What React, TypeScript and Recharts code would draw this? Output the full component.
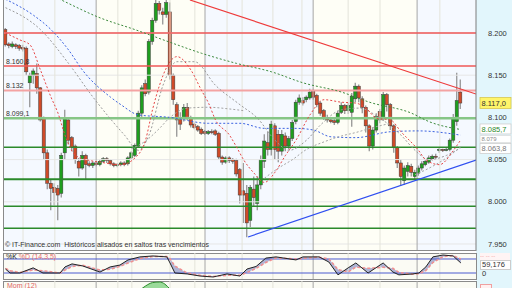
import React from 'react';
import {
  ComposedChart,
  Bar,
  Line,
  Area,
  XAxis,
  YAxis,
  ReferenceLine,
  ReferenceArea,
} from 'recharts';

// daily candles, oldest first
const OPEN = [
  8.204, 8.187, 8.184, 8.186, 8.185, 8.183, 8.182, 8.141, 8.15, 8.152,
  8.135, 8.099, 8.058, 8.022, 8.017, 8.016, 8.01, 8.058, 8.097, 8.076,
  8.066, 8.048, 8.04, 8.055, 8.045, 8.043, 8.046, 8.044, 8.048, 8.051,
  8.049, 8.045, 8.043, 8.044, 8.046, 8.045, 8.052, 8.055, 8.066, 8.105,
  8.14, 8.13, 8.19, 8.215, 8.235, 8.225, 8.222, 8.225, 8.15, 8.115,
  8.1, 8.1, 8.112, 8.1, 8.092, 8.089, 8.086, 8.083, 8.081, 8.083,
  8.084, 8.081, 8.053, 8.047, 8.052, 8.05, 8.049, 8.038, 8.013, 8.01,
  7.978, 8.015, 7.998, 8.02, 8.048, 8.07, 8.062, 8.09, 8.08, 8.06,
  8.078, 8.066, 8.075, 8.095, 8.118, 8.12, 8.121, 8.123, 8.131, 8.126,
  8.117, 8.108, 8.1, 8.097, 8.096, 8.094, 8.106, 8.114, 8.108, 8.106,
  8.122, 8.137, 8.122, 8.112, 8.09, 8.066, 8.085, 8.107, 8.099, 8.127,
  8.115, 8.09, 8.064, 8.046, 8.025, 8.036, 8.042, 8.03, 8.034, 8.04,
  8.044, 8.047, 8.051, 8.054, 8.061, 8.062, 8.061, 8.062, 8.073, 8.095,
  8.13,
];
const HIGH = [
  8.206, 8.189, 8.19, 8.188, 8.187, 8.186, 8.184, 8.153, 8.158, 8.164,
  8.136, 8.101, 8.062, 8.026, 8.022, 8.02, 8.058, 8.109, 8.1, 8.078,
  8.068, 8.052, 8.06, 8.057, 8.048, 8.048, 8.048, 8.05, 8.053, 8.053,
  8.05, 8.047, 8.046, 8.048, 8.048, 8.054, 8.06, 8.069, 8.108, 8.138,
  8.145, 8.193, 8.218, 8.239, 8.238, 8.23, 8.239, 8.236, 8.152, 8.118,
  8.106, 8.116, 8.117, 8.102, 8.094, 8.091, 8.088, 8.085, 8.085, 8.086,
  8.086, 8.083, 8.055, 8.054, 8.054, 8.052, 8.051, 8.04, 8.046, 8.02,
  8.02, 8.03, 8.03, 8.055, 8.08, 8.083, 8.096, 8.093, 8.085, 8.085,
  8.082, 8.078, 8.097, 8.121, 8.127, 8.124, 8.126, 8.134, 8.134, 8.128,
  8.119, 8.11, 8.103, 8.099, 8.098, 8.108, 8.118, 8.116, 8.117, 8.129,
  8.141, 8.139, 8.125, 8.114, 8.092, 8.088, 8.105, 8.11, 8.13, 8.129,
  8.117, 8.092, 8.066, 8.05, 8.043, 8.047, 8.045, 8.038, 8.043, 8.048,
  8.05, 8.055, 8.056, 8.057, 8.064, 8.063, 8.064, 8.075, 8.104, 8.153,
  8.145,
];
const LOW = [
  8.184, 8.182, 8.182, 8.181, 8.179, 8.178, 8.15, 8.112, 8.14, 8.128,
  8.095, 8.05, 8.015, 7.99, 7.996, 7.978, 8.005, 8.05, 8.068, 8.06,
  8.045, 8.03, 8.038, 8.026, 8.041, 8.04, 8.042, 8.042, 8.046, 8.046,
  8.043, 8.041, 8.041, 8.042, 8.042, 8.043, 8.05, 8.053, 8.064, 8.1,
  8.125, 8.127, 8.186, 8.212, 8.222, 8.21, 8.218, 8.145, 8.115, 8.077,
  8.085, 8.095, 8.097, 8.088, 8.086, 8.083, 8.079, 8.079, 8.079, 8.08,
  8.078, 8.05, 8.044, 8.045, 8.046, 8.045, 8.03, 7.998, 7.975, 7.958,
  7.97, 7.995, 7.99, 8.015, 8.04, 8.055, 8.055, 8.05, 8.047, 8.055,
  8.06, 8.062, 8.072, 8.092, 8.115, 8.114, 8.118, 8.121, 8.121, 8.112,
  8.102, 8.097, 8.094, 8.093, 8.091, 8.092, 8.104, 8.104, 8.104, 8.089,
  8.118, 8.118, 8.105, 8.082, 8.06, 8.062, 8.082, 8.093, 8.096, 8.107,
  8.085, 8.058, 8.04, 8.019, 8.02, 8.03, 8.03, 8.027, 8.031, 8.037,
  8.042, 8.045, 8.049, 8.051, 8.058, 8.059, 8.06, 8.06, 8.07, 8.09,
  8.11,
];
const CLOSE = [
  8.186, 8.185, 8.187, 8.184, 8.182, 8.181, 8.154, 8.15, 8.155, 8.135,
  8.097, 8.058, 8.022, 8.016, 8.011, 8.008, 8.055, 8.099, 8.073, 8.064,
  8.05, 8.04, 8.055, 8.044, 8.043, 8.046, 8.044, 8.048, 8.051, 8.049,
  8.045, 8.043, 8.044, 8.046, 8.044, 8.052, 8.058, 8.067, 8.105, 8.135,
  8.128, 8.19, 8.215, 8.235, 8.227, 8.222, 8.236, 8.15, 8.121, 8.097,
  8.092, 8.112, 8.1, 8.091, 8.088, 8.085, 8.081, 8.081, 8.083, 8.082,
  8.08, 8.053, 8.047, 8.052, 8.049, 8.048, 8.033, 8.008, 8.008, 7.975,
  8.017, 8.005, 8.02, 8.05, 8.072, 8.062, 8.092, 8.062, 8.06, 8.08,
  8.066, 8.075, 8.094, 8.118, 8.123, 8.117, 8.124, 8.13, 8.124, 8.115,
  8.105, 8.1, 8.097, 8.095, 8.094, 8.105, 8.114, 8.108, 8.114, 8.125,
  8.137, 8.123, 8.112, 8.09, 8.066, 8.085, 8.101, 8.097, 8.127, 8.115,
  8.09, 8.064, 8.046, 8.03, 8.04, 8.043, 8.035, 8.035, 8.04, 8.045,
  8.048, 8.052, 8.054, 8.053, 8.062, 8.061, 8.062, 8.073, 8.1, 8.12,
  8.117,
];

// dotted averages: [candle index, price]
const MA_FAST: [number, number][] = [
  [0, 8.2], [4, 8.192], [7, 8.186], [10, 8.156], [13, 8.124], [15, 8.105],
  [17, 8.079], [20, 8.055], [23, 8.05], [27, 8.047], [33, 8.044], [37, 8.052],
  [40, 8.073], [42, 8.109], [44, 8.138], [46, 8.159], [49, 8.172], [53, 8.156],
  [56, 8.132], [58, 8.117], [60, 8.097], [64, 8.079], [66, 8.065], [68, 8.05],
  [71, 8.034], [74, 8.023], [77, 8.035], [80, 8.055], [83, 8.073], [87, 8.103],
  [91, 8.121], [96, 8.118], [100, 8.117], [103, 8.111], [106, 8.099], [110, 8.097],
  [113, 8.083], [118, 8.061], [120, 8.05], [124, 8.044], [128, 8.061], [130, 8.073],
];
const MA_MID: [number, number][] = [
  [0, 8.23], [10, 8.204], [18, 8.164], [25, 8.124], [34, 8.079], [38, 8.061],
  [41, 8.079], [45, 8.138], [49, 8.166], [54, 8.166], [60, 8.138], [67, 8.115],
  [72, 8.099], [77, 8.073], [81, 8.061], [86, 8.073], [90, 8.091], [96, 8.109],
  [101, 8.111], [107, 8.099], [113, 8.079], [117, 8.061], [121, 8.05], [126, 8.055],
  [130, 8.0638],
];
const MA_SLOW: [number, number][] = [
  [0, 8.24], [8, 8.221], [13, 8.204], [18, 8.18], [22, 8.156], [30, 8.124],
  [33, 8.115], [38, 8.103], [47, 8.1], [58, 8.093], [67, 8.093], [74, 8.087],
  [83, 8.087], [88, 8.085], [93, 8.077], [100, 8.076], [110, 8.083], [118, 8.084],
  [130, 8.079],
];
const MA_LONG: [number, number][] = [
  [8, 8.255], [16, 8.239], [27, 8.218], [37, 8.204], [47, 8.189], [56, 8.176],
  [66, 8.164], [76, 8.154], [85, 8.141], [96, 8.13], [104, 8.118], [116, 8.105],
  [121, 8.095], [130, 8.0857],
];
const ARC_A: [number, number][] = [
  [36, 8.063], [40, 8.072], [44, 8.087], [47, 8.1], [52, 8.111], [58, 8.112], [64, 8.11], [68, 8.108],
];
const ARC_B: [number, number][] = [
  [74, 8.028], [78, 8.04], [82, 8.05], [86, 8.062], [91, 8.071], [96, 8.078], [100, 8.082],
  [105, 8.088], [110, 8.093],
];
const ARC_C: [number, number][] = [[117, 8.032], [122, 8.042], [126, 8.052], [130, 8.065]];

const PRICE_TICKS = [7.95, 8.0, 8.05, 8.1, 8.15, 8.2];
const RESISTANCE = [8.2, 8.1608, 8.132];
const RESISTANCE_TEXT = ['', '8.160,8', '8.132'];
const SUPPORT = [8.0991, 8.0646, 8.0267, 7.9947, 7.9686];
const SUPPORT_TEXT = ['8.099,1', '', '', '', ''];
const TREND_DOWN = [{ x: 52.7, y: 8.2391 }, { x: 134.43, y: 8.1277 }];
const TREND_UP = [{ x: 69.3, y: 7.9583 }, { x: 134.43, y: 8.0495 }];
const MONTH_MARKS = [25.9, 57.0, 87.9, 117.6];
const WEEK_MARKS = [5.0, 14.1, 32.1, 36.1, 47.0, 54.1, 63.3, 67.6, 76.4, 84.7, 97.9, 107.0, 124.1];

// stochastic %K %D (14,3,5)
const STOCH_IDX = [
  0, 1.3, 4.1, 7.9, 10.7, 15.6, 17, 19, 22.1, 27, 29.9, 32.7, 35, 38.4, 42.1,
  46.1, 47, 48.4, 51.9, 55.6, 59.3, 63.3, 67, 69, 71.6, 74.4, 77.3, 83, 85, 89.6,
  92.4, 95, 97.9, 100.1, 103.6, 107.9, 110.7, 112.4, 116.4, 118.1, 120.1, 122.1, 125, 127.9, 130.1,
];
const STOCH_K = [
  37, 20, 20, 42, 20, 20, 46, 59, 50, 24, 46, 54, 76, 89, 93,
  89, 63, 20, 16, 7, 3, 16, 7, 37, 48, 84, 89, 76, 89, 89,
  67, 12, 42, 63, 20, 63, 24, 12, 16, 20, 46, 89, 97, 93, 63,
];
const STOCH_D = [
  40, 30, 22, 33, 30, 20, 32, 48, 53, 33, 36, 48, 63, 82, 91,
  91, 82, 50, 20, 10, 5, 10, 10, 22, 40, 65, 85, 80, 83, 88,
  80, 35, 25, 45, 40, 45, 40, 22, 15, 17, 30, 65, 90, 95, 80,
];

// momentum (12)
const MOM_IDX = [0, 10, 20, 30, 34, 36, 38, 40, 42, 44, 45.5, 47, 50, 55, 65, 80, 95, 110, 120, 130];
const MOM_VAL = [
  -0.05, -0.06, -0.03, 0.0, 0.01, 0.03, 0.05, 0.075, 0.092, 0.095,
  0.085, 0.06, 0.02, -0.04, -0.05, 0.02, 0.03, -0.03, 0.0, 0.04,
];

const X_DOMAIN: [number, number] = [-0.43, 134.43];
const PRICE_DOMAIN: [number, number] = [7.9417, 8.2391];
const FONT = '"Liberation Sans", Arial, sans-serif';

const rows: any[] = CLOSE.map((c, i) => ({ i, o: OPEN[i], h: HIGH[i], l: LOW[i], c }));
const put = (key: string, pts: [number, number][]) =>
  pts.forEach(([i, v]) => {
    rows[i][key] = v;
  });
put('fast', MA_FAST);
put('mid', MA_MID);
put('slow', MA_SLOW);
put('long', MA_LONG);
put('arcA', ARC_A);
put('arcB', ARC_B);
put('arcC', ARC_C);

const stochRows = STOCH_IDX.map((i, n) => ({ i, k: STOCH_K[n], d: STOCH_D[n] }));
const momRows = MOM_IDX.map((i, n) => ({ i, m: MOM_VAL[n] }));

const Candle = (props: any) => {
  const { x, y, width, height, payload } = props;
  if (!payload || height == null) return null;
  const { o, h, l, c } = payload;
  const cx = x + width / 2;
  const span = h - l || 1e-6;
  const at = (v: number) => y + ((h - v) / span) * height;
  const top = at(Math.max(o, c));
  const bot = at(Math.min(o, c));
  const up = c >= o;
  return (
    <g>
      <line x1={cx} x2={cx} y1={y} y2={y + height} stroke="#8d8d8d" strokeWidth={1.2} />
      <rect
        x={cx - 1.6}
        y={top}
        width={3.2}
        height={Math.max(bot - top, 1)}
        fill={up ? '#1e9e1e' : '#d04a28'}
        stroke="#3b3b3b"
        strokeWidth={0.5}
      />
    </g>
  );
};

const PriceTag = ({ viewBox, text, color, bg, border, dy = 0, h = 11, size = 7.5 }: any) => {
  if (!viewBox) return null;
  const x = viewBox.x + viewBox.width + 4;
  const y = viewBox.y + dy;
  return (
    <g>
      <rect x={x} y={y - h / 2} width={31} height={h} fill={bg} stroke={border} strokeWidth={0.8} />
      <text x={x + 1.5} y={y + size * 0.38} fontSize={size} fill={color} fontFamily={FONT}>
        {text}
      </text>
    </g>
  );
};

const timeGrid = () => (
  <>
    {WEEK_MARKS.map((m) => (
      <ReferenceLine key={'w' + m} x={m} stroke="#e4e4da" strokeWidth={1} />
    ))}
    {MONTH_MARKS.map((m) => (
      <ReferenceLine key={'m' + m} x={m} stroke="#a6a6a6" strokeWidth={1} />
    ))}
  </>
);

const dotted = (key: string, color: string) => (
  <Line
    dataKey={key}
    type="monotone"
    stroke={color}
    strokeWidth={1}
    strokeDasharray="2 2"
    dot={false}
    connectNulls
    isAnimationActive={false}
  />
);

const App: React.FC = () => {
  const bands = [X_DOMAIN[0], ...MONTH_MARKS, X_DOMAIN[1]];
  return (
    <div
      style={{
        position: 'fixed',
        left: 0,
        top: 0,
        width: 512,
        height: 288,
        overflow: 'hidden',
        background: '#ffffff',
        fontFamily: FONT,
      }}
    >
      <div style={{ position: 'absolute', left: 476, top: 0, width: 36, height: 288, background: '#e2f6fc' }} />

      {/* price panel */}
      <div style={{ position: 'absolute', left: 0, top: 0 }}>
        <ComposedChart width={512} height={251} data={rows} margin={{ top: 0, right: 0, bottom: 0, left: 4 }}>
          <XAxis dataKey="i" type="number" domain={X_DOMAIN} hide allowDataOverflow />
          <YAxis
            orientation="right"
            type="number"
            domain={PRICE_DOMAIN}
            allowDataOverflow
            ticks={PRICE_TICKS}
            tickFormatter={(v: number) => v.toFixed(3)}
            width={36}
            tick={{ fontSize: 7.5, fill: '#333', fontFamily: FONT }}
            tickLine={false}
            tickMargin={6}
            axisLine={{ stroke: '#7c7c7c' }}
          />
          {bands.slice(0, -1).map((b, n) => (
            <ReferenceArea
              key={'b' + n}
              x1={b}
              x2={bands[n + 1]}
              fill={n % 2 === 0 ? '#f5f9ff' : '#fefef6'}
              fillOpacity={1}
              stroke="none"
            />
          ))}
          {PRICE_TICKS.map((t) => (
            <ReferenceLine key={'g' + t} y={t} stroke="#e6e6e6" />
          ))}
          {timeGrid()}
          {RESISTANCE.map((v, n) => (
            <ReferenceLine
              key={'r' + v}
              y={v}
              stroke={n === 2 ? '#f4a3a3' : '#ef5757'}
              strokeWidth={n === 2 ? 2 : 1.5}
              label={
                RESISTANCE_TEXT[n]
                  ? { value: RESISTANCE_TEXT[n], position: 'insideBottomLeft', offset: 2, fontSize: 7, fill: '#333' }
                  : undefined
              }
            />
          ))}
          {SUPPORT.map((v, n) => (
            <ReferenceLine
              key={'s' + v}
              y={v}
              stroke={n === 0 ? '#86c686' : '#2b8a2b'}
              strokeWidth={n === 0 ? 2.5 : n === 2 ? 2 : 1.5}
              label={
                SUPPORT_TEXT[n]
                  ? { value: SUPPORT_TEXT[n], position: 'insideBottomLeft', offset: 2, fontSize: 7, fill: '#333' }
                  : undefined
              }
            />
          ))}
          <ReferenceLine segment={TREND_DOWN} stroke="#ee3a3a" strokeWidth={1.2} ifOverflow="hidden" />
          <ReferenceLine segment={TREND_UP} stroke="#2f4ff0" strokeWidth={1.2} ifOverflow="hidden" />
          {dotted('long', '#3d8a3d')}
          {dotted('slow', '#3b62e0')}
          {dotted('mid', '#9a9a9a')}
          {dotted('arcA', '#a4a4a4')}
          {dotted('arcB', '#a4a4a4')}
          {dotted('arcC', '#a4a4a4')}
          {dotted('fast', '#e74848')}
          <Bar
            dataKey={(d: any) => [d.l, d.h]}
            barSize={3}
            shape={(p: any) => <Candle {...p} />}
            isAnimationActive={false}
          />
          <ReferenceLine
            y={8.079}
            stroke="none"
            label={<PriceTag text="8.079" color="#8a8a8a" bg="#ffffff" border="#dddddd" dy={4} h={7} size={6} />}
          />
          <ReferenceLine
            y={8.0857}
            stroke="none"
            label={<PriceTag text="8.085,7" color="#2c8a2c" bg="#ffffff" border="#cfcfcf" dy={-0.5} h={10} />}
          />
          <ReferenceLine
            y={8.0638}
            stroke="none"
            label={<PriceTag text="8.063,8" color="#777777" bg="#ffffff" border="#cfcfcf" dy={0.5} h={10} />}
          />
          <ReferenceLine
            y={8.117}
            stroke="none"
            label={<PriceTag text="8.117,0" color="#333333" bg="#fff56a" border="#d8c850" />}
          />
        </ComposedChart>
      </div>
      <div
        style={{
          position: 'absolute',
          left: 3,
          top: -1,
          width: 473,
          height: 252,
          borderLeft: '1px solid #8a8a8a',
          borderBottom: '1px solid #8a8a8a',
          boxSizing: 'border-box',
          pointerEvents: 'none',
        }}
      />
      <div style={{ position: 'absolute', left: 5, top: 241, fontSize: 7, color: '#333', whiteSpace: 'pre' }}>
        {'© IT-Finance.com  Históricos alisados en saltos tras vencimientos'}
      </div>

      {/* stochastic panel */}
      <div
        style={{
          position: 'absolute',
          left: 3,
          top: 253,
          width: 474,
          height: 27,
          border: '1px solid #8a8a8a',
          boxSizing: 'border-box',
          background: '#fbfbf4',
        }}
      />
      <div style={{ position: 'absolute', left: 0, top: 253 }}>
        <ComposedChart width={512} height={26} data={stochRows} margin={{ top: 0, right: 0, bottom: 0, left: 4 }}>
          <XAxis dataKey="i" type="number" domain={X_DOMAIN} hide allowDataOverflow />
          <YAxis orientation="right" type="number" domain={[-5.7, 105.7]} width={36} tick={false} axisLine={false} allowDataOverflow />
          {timeGrid()}
          <ReferenceLine y={80} stroke="#4a5ad0" />
          <ReferenceLine y={20} stroke="#4a5ad0" />
          <Area
            dataKey={(r: any) => [r.d, r.k]}
            type="linear"
            fill="#7d87c2"
            fillOpacity={0.6}
            stroke="none"
            isAnimationActive={false}
          />
          <Line dataKey="d" type="linear" stroke="#f09090" strokeWidth={1.5} strokeDasharray="3 2" dot={false} isAnimationActive={false} />
          <Line dataKey="k" type="linear" stroke="#222222" strokeWidth={1} dot={false} isAnimationActive={false} />
        </ComposedChart>
      </div>
      <div style={{ position: 'absolute', left: 6, top: 253, fontSize: 7, lineHeight: '8px', whiteSpace: 'pre' }}>
        <span style={{ color: '#222' }}>%K </span>
        <span style={{ color: '#e87070' }}>%D (14,3,5)</span>
      </div>
      <div
        style={{
          position: 'absolute',
          left: 480,
          top: 253,
          width: 30,
          height: 7,
          fontSize: 6,
          lineHeight: '7px',
          color: '#f0a0a0',
          background: '#fff4f4',
        }}
      >
        -- -- --
      </div>
      <div
        style={{
          position: 'absolute',
          left: 480,
          top: 260,
          width: 31,
          height: 10,
          border: '1px solid #cccccc',
          boxSizing: 'border-box',
          background: '#ffffff',
          fontSize: 7.5,
          lineHeight: '8px',
          color: '#333',
          paddingLeft: 1,
        }}
      >
        59,176
      </div>
      <div style={{ position: 'absolute', left: 482, top: 270, fontSize: 7.5, lineHeight: '8px', color: '#333' }}>0</div>

      {/* momentum panel */}
      <div
        style={{
          position: 'absolute',
          left: 3,
          top: 281,
          width: 474,
          height: 30,
          border: '1px solid #8a8a8a',
          boxSizing: 'border-box',
          background: '#fbfbf4',
        }}
      />
      <div style={{ position: 'absolute', left: 0, top: 281 }}>
        <ComposedChart width={512} height={40} data={momRows} margin={{ top: 0, right: 0, bottom: 0, left: 4 }}>
          <XAxis dataKey="i" type="number" domain={X_DOMAIN} hide allowDataOverflow />
          <YAxis orientation="right" type="number" domain={[-0.1, 0.1]} width={36} tick={false} axisLine={false} allowDataOverflow />
          {timeGrid()}
          <Area
            dataKey="m"
            type="monotone"
            fill="#9adb9a"
            fillOpacity={1}
            stroke="#2a8a2a"
            strokeWidth={1}
            baseValue={0}
            isAnimationActive={false}
          />
        </ComposedChart>
      </div>
      <div style={{ position: 'absolute', left: 7, top: 282, fontSize: 7, lineHeight: '8px', color: '#e06464' }}>Mom (12)</div>
      <div
        style={{
          position: 'absolute',
          left: 480,
          top: 284,
          width: 12,
          height: 8,
          border: '1px solid #f0a0a0',
          background: '#fff0f0',
          boxSizing: 'border-box',
        }}
      />
    </div>
  );
};

export default App;
